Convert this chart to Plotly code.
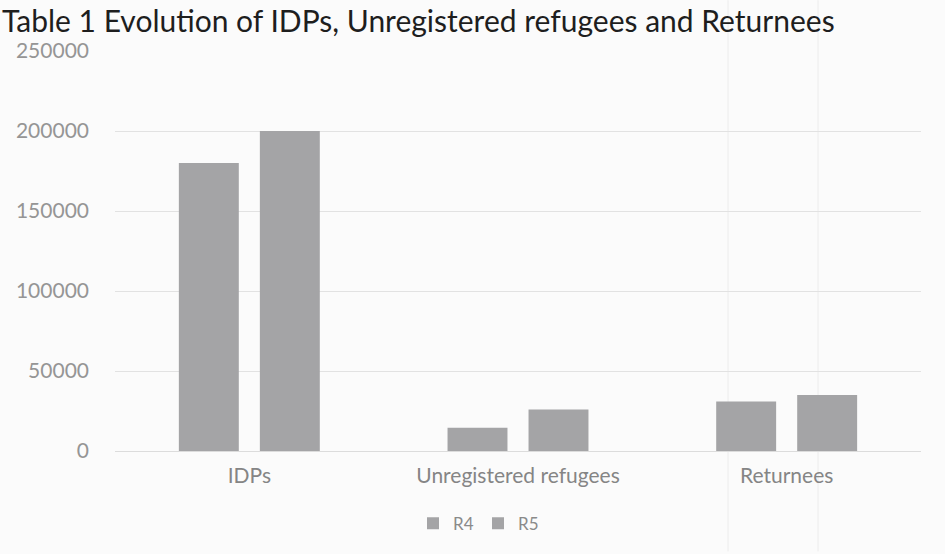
import plotly.graph_objects as go

categories = ["IDPs", "Unregistered refugees", "Returnees"]
r4_values = [180000, 14500, 31000]
r5_values = [200000, 26000, 35000]
series_names = ["R4", "R5"]
y_ticks = [0, 50000, 100000, 150000, 200000, 250000]
title_text = "Table 1 Evolution of IDPs, Unregistered refugees and Returnees"

bar_color = "#a4a4a6"
fig = go.Figure()
fig.add_trace(go.Bar(x=categories, y=r4_values, name=series_names[0],
                     marker=dict(color=bar_color, line=dict(width=0))))
fig.add_trace(go.Bar(x=categories, y=r5_values, name=series_names[1],
                     marker=dict(color=bar_color, line=dict(width=0))))

L, R, T, B = 115, 24, 51, 101
pw = 945 - L - R
ph = 554 - T - B

shapes = []
for px in (728, 818):
    xp = (px - L) / pw
    shapes.append(dict(type="line", xref="paper", yref="paper", x0=xp, x1=xp,
                       y0=-(B / ph), y1=1 + T / ph, line=dict(color="#ececec", width=1),
                       layer="below"))

fig.update_layout(
    width=945, height=554,
    margin=dict(l=L, r=R, t=T, b=B),
    paper_bgcolor="#fbfbfb", plot_bgcolor="#fbfbfb",
    barmode="group", bargap=0.397, bargroupgap=0.26,
    font=dict(family="Lato", color="#8a8a8a"),
    showlegend=True,
    legend=dict(orientation="h", x=(478 - L) / pw, xanchor="center",
                y=(453 - 526) / ph, yanchor="middle",
                font=dict(size=17, color="#8a8a8a"), entrywidth=20,
                bgcolor="rgba(0,0,0,0)"),
    xaxis=dict(showgrid=False, showline=False, ticks="", ticklabelstandoff=10,
               tickfont=dict(size=21, color="#858585")),
    yaxis=dict(range=[0, 250000], tickvals=y_ticks, ticktext=[str(v) for v in y_ticks],
               showgrid=True, gridcolor="#e2e2e2", gridwidth=1, zeroline=True,
               zerolinecolor="#dcdcdc", zerolinewidth=1, showline=False,
               tickfont=dict(size=21, color="#959595"), ticklabelstandoff=25),
    shapes=shapes,
    annotations=[dict(text=title_text, xref="paper", yref="paper", x=-L / pw,
                      y=1 + T / ph, xanchor="left", yanchor="top", showarrow=False,
                      font=dict(family="Lato", size=30, color="#1e1e1e"))],
)

fig.write_html("out.html")
